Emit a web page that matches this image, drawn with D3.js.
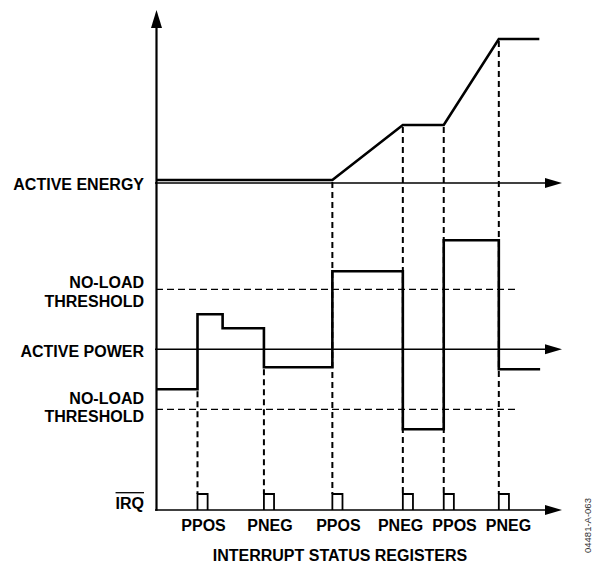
<!DOCTYPE html>
<html>
<head>
<meta charset="utf-8">
<script src="https://cdn.jsdelivr.net/npm/d3@7"></script>
<style>
  html, body { margin: 0; padding: 0; background: #fff; }
  svg { display: block; }
  text { font-family: "Liberation Sans", Arial, Helvetica, sans-serif; }
</style>
</head>
<body>
<div id="chart"></div>
<script>
// Interrupt timing: active energy, active power vs. no-load thresholds, IRQ pulses.

// Time base shared by all three traces (arbitrary units)
const timeDomain = [0, 100];
const eventTimes = [10, 26.4, 43.3, 60.7, 70.8, 84.4];
const eventLabels = ["PPOS", "PNEG", "PPOS", "PNEG", "PPOS", "PNEG"];

// Active energy accumulation (piecewise linear)
const energyTimes = [0, 43.3, 60.7, 70.8, 84.4, 94.4];
const energyValues = [0, 0, 3.9, 3.9, 10, 10];

// Active power (step trace): value holds from each time to the next
const powerTimes = [0, 10, 16.2, 26.4, 43.3, 60.7, 70.8, 84.4, 94.6];
const powerValues = [-2, 1.75, 1.05, -0.9, 3.9, -4, 5.45, -1];

// No-load threshold (symmetric about zero) and where its guide ends
const noLoadThreshold = 3;
const thresholdEnd = 88.9;

// Width of an IRQ pulse, in time units
const pulseWidth = 2.5;

// Left-hand labels
const energyLabel = "ACTIVE ENERGY";
const powerLabel = "ACTIVE POWER";
const thresholdLabel = ["NO-LOAD", "THRESHOLD"];
const irqLabel = "IRQ";
const xTitle = "INTERRUPT STATUS REGISTERS";
const figureId = "04481-A-063";

const W = 595, H = 563;
const svg = d3.select("#chart").append("svg")
  .attr("width", W).attr("height", H);

const x = d3.scaleLinear().domain(timeDomain).range([157, 562]);
const yE = d3.scaleLinear().domain([0, 10]).range([183, 42]);
const yP = d3.scaleLinear().domain([-6, 6]).range([469.3, 229.3]);
const yI = d3.scaleLinear().domain([0, 1]).range([510, 494]);

const ink = "#000";
const traceLift = 3; // flat energy trace sits just above its axis

// ---- threshold guides ----
[noLoadThreshold, -noLoadThreshold].forEach(v => {
  svg.append("line")
    .attr("x1", x(0) - 1).attr("x2", x(thresholdEnd))
    .attr("y1", yP(v)).attr("y2", yP(v))
    .attr("stroke", ink).attr("stroke-width", 1.3)
    .attr("stroke-dasharray", "7,4");
});

// ---- vertical event guides ----
function energyAt(t) {
  const i = energyTimes.indexOf(t);
  return i >= 0 ? energyValues[i] : null;
}
function powerBefore(t) {
  const i = powerTimes.indexOf(t);
  return powerValues[i - 1];
}
function powerAfter(t) {
  const i = powerTimes.indexOf(t);
  return powerValues[i];
}
eventTimes.forEach(t => {
  const e = energyAt(t);
  const top = e !== null
    ? yE(e) - traceLift
    : Math.max(yP(powerBefore(t)), yP(powerAfter(t)));
  svg.append("line")
    .attr("x1", x(t)).attr("x2", x(t))
    .attr("y1", top + 2).attr("y2", yI(1))
    .attr("stroke", ink).attr("stroke-width", 2)
    .attr("stroke-dasharray", "6,4");
});

// ---- axes with arrowheads ----
function hArrow(y) {
  const x0 = x(0) - 2, tip = 562;
  svg.append("line").attr("x1", x0).attr("x2", tip - 12)
    .attr("y1", y).attr("y2", y)
    .attr("stroke", ink).attr("stroke-width", 1.6);
  svg.append("path")
    .attr("d", `M${tip},${y} L${tip - 17},${y - 5} L${tip - 17},${y + 5} Z`)
    .attr("fill", ink);
}
hArrow(yE(0));
hArrow(yP(0));
hArrow(yI(0));

// vertical axis
svg.append("line")
  .attr("x1", x(0) - 0.5).attr("x2", x(0) - 0.5)
  .attr("y1", yI(0) + 0.8).attr("y2", 24)
  .attr("stroke", ink).attr("stroke-width", 2.2);
svg.append("path")
  .attr("d", `M${x(0) - 0.5},10 L${x(0) - 6},28 L${x(0) + 5},28 Z`)
  .attr("fill", ink);

// ---- energy trace ----
const energyLine = d3.line()
  .x((d, i) => x(energyTimes[i]))
  .y(d => yE(d) - traceLift);
svg.append("path")
  .attr("d", energyLine(energyValues))
  .attr("fill", "none").attr("stroke", ink)
  .attr("stroke-width", 2.6).attr("stroke-linejoin", "miter");

// ---- power trace (step after) ----
const powerPts = powerValues.map((v, i) => [powerTimes[i], v]);
powerPts.push([powerTimes[powerTimes.length - 1], powerValues[powerValues.length - 1]]);
const powerLine = d3.line()
  .x(d => x(d[0])).y(d => yP(d[1]))
  .curve(d3.curveStepAfter);
svg.append("path")
  .attr("d", powerLine(powerPts))
  .attr("fill", "none").attr("stroke", ink)
  .attr("stroke-width", 2.6).attr("stroke-linejoin", "miter");

// ---- IRQ pulses ----
eventTimes.forEach(t => {
  svg.append("path")
    .attr("d", `M${x(t)},${yI(0)} V${yI(1)} H${x(t + pulseWidth)} V${yI(0)}`)
    .attr("fill", "none").attr("stroke", ink).attr("stroke-width", 1.8);
});

// ---- left labels ----
const labelX = 144;
function leftLabel(txt, y) {
  return svg.append("text")
    .attr("x", labelX).attr("y", y)
    .attr("text-anchor", "end")
    .attr("font-size", 16).attr("font-weight", "bold")
    .attr("fill", ink).text(txt);
}
leftLabel(energyLabel, yE(0) + 7);
leftLabel(thresholdLabel[0], yP(noLoadThreshold) - 1.3);
leftLabel(thresholdLabel[1], yP(noLoadThreshold) + 17.2);
leftLabel(powerLabel, yP(0) + 7.7);
leftLabel(thresholdLabel[0], yP(-noLoadThreshold) - 5.3);
leftLabel(thresholdLabel[1], yP(-noLoadThreshold) + 12.7);

// IRQ with overbar (active-low signal)
const irq = leftLabel(irqLabel, yI(0) - 1.5);
const irqW = irq.node().getComputedTextLength();
svg.append("line")
  .attr("x1", labelX - irqW).attr("x2", labelX)
  .attr("y1", yI(0) - 17.3).attr("y2", yI(0) - 17.3)
  .attr("stroke", ink).attr("stroke-width", 1.3);

// ---- event labels under the pulses, spread so they do not collide ----
const labelSel = svg.selectAll("text.evt").data(eventLabels).enter()
  .append("text").attr("class", "evt")
  .attr("y", 530.7)
  .attr("text-anchor", "middle")
  .attr("font-size", 16).attr("font-weight", "bold")
  .attr("fill", ink).text(d => d);
const widths = labelSel.nodes().map(n => n.getComputedTextLength());
const centers = eventTimes.map(t => x(t + pulseWidth / 2) + 1);
const minGap = 9;
for (let it = 0; it < 200; it++) {
  for (let i = 0; i < centers.length - 1; i++) {
    const need = (widths[i] + widths[i + 1]) / 2 + minGap;
    const d = centers[i + 1] - centers[i];
    if (d < need) {
      const push = (need - d) / 2;
      centers[i] -= push;
      centers[i + 1] += push;
    }
  }
}
labelSel.attr("x", (d, i) => centers[i]);

// ---- axis title ----
svg.append("text")
  .attr("x", 340).attr("y", 560.7)
  .attr("text-anchor", "middle")
  .attr("font-size", 16).attr("font-weight", "bold")
  .attr("fill", ink).text(xTitle);

// ---- figure id, rotated along the right edge ----
svg.append("text")
  .attr("transform", "translate(591,553) rotate(-90)")
  .attr("font-size", 9.5)
  .attr("fill", "#333").text(figureId);
</script>
</body>
</html>
